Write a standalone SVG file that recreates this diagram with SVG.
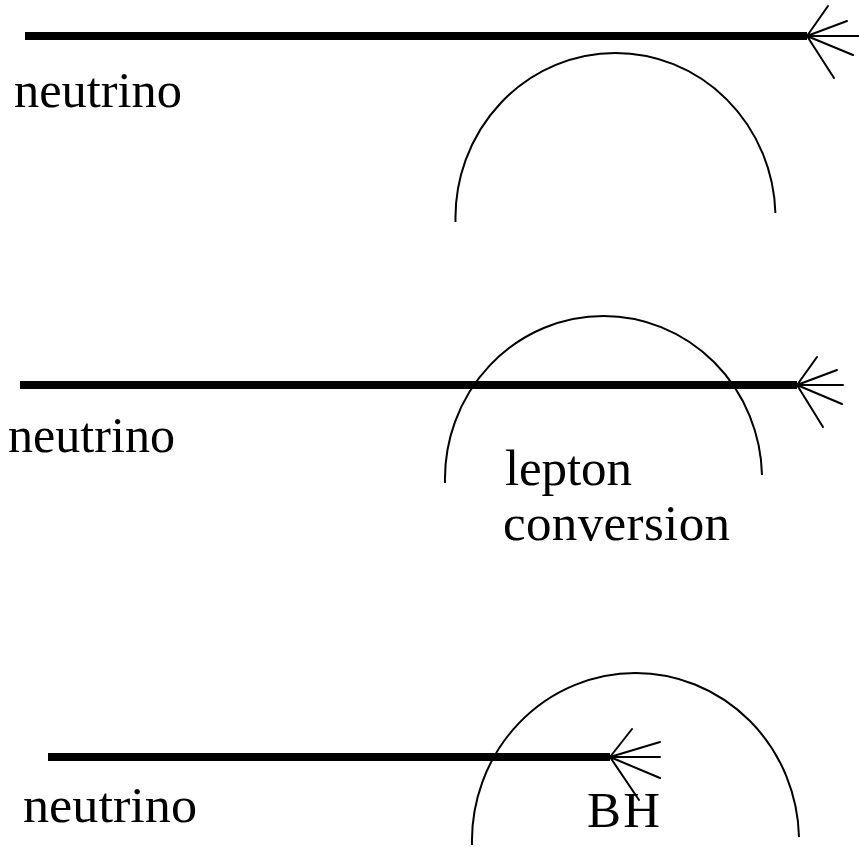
<svg xmlns="http://www.w3.org/2000/svg" width="859" height="847" viewBox="0 0 859 847">
<style>
.beam{stroke:#000;stroke-width:8;fill:none}
.spoke{stroke:#000;stroke-width:2;fill:none;stroke-linecap:round}
.arc{stroke:#000;stroke-width:2;fill:none}
.lbl{font-family:"Liberation Serif","Times New Roman",serif;font-size:51px;fill:#000}
</style>
<rect width="859" height="847" fill="#fff"/>
<g id="connectors">
<line class="beam" x1="25" y1="36" x2="807" y2="36"/>
<path class="spoke" d="M807,36 L859,36 M807,36 L828,6 M807,36 L847,21 M807,36 L853,55 M807,36 L834,78"/>
<line class="beam" x1="20" y1="385" x2="797" y2="385"/>
<path class="spoke" d="M797,385 L843,385 M797,385 L817,357 M797,385 L837,370 M797,385 L842,404 M797,385 L823,427"/>
<line class="beam" x1="48" y1="757" x2="610" y2="757"/>
<path class="spoke" d="M610,757 L660,757 M610,757 L632,729 M610,757 L660,742 M610,757 L660,778 M610,757 L639,800"/>
</g>
<g id="arc1"><path class="arc" d="M455.5,222 A160,165 0 0 1 615.5,53 A160,165 0 0 1 775.4,213"/></g>
<g id="arc2"><path class="arc" d="M445,483 A158.5,163 0 0 1 603.5,316 A158.5,163 0 0 1 762,475"/></g>
<g id="arc3"><path class="arc" d="M472,845 A163.5,168 0 0 1 635.5,673 A163.5,168 0 0 1 799,837"/></g>
<g id="label-neutrino-1"><text class="lbl" x="14" y="107" textLength="168" lengthAdjust="spacingAndGlyphs">neutrino</text></g>
<g id="label-neutrino-2"><text class="lbl" x="8" y="452" textLength="167" lengthAdjust="spacingAndGlyphs">neutrino</text></g>
<g id="label-neutrino-3"><text class="lbl" x="23" y="822" textLength="174" lengthAdjust="spacingAndGlyphs">neutrino</text></g>
<g id="label-lepton"><text class="lbl" x="505" y="485" textLength="127">lepton</text><text class="lbl" x="503" y="540" textLength="227">conversion</text></g>
<g id="label-bh"><text class="lbl" x="587" y="827" textLength="73">BH</text></g>
</svg>
